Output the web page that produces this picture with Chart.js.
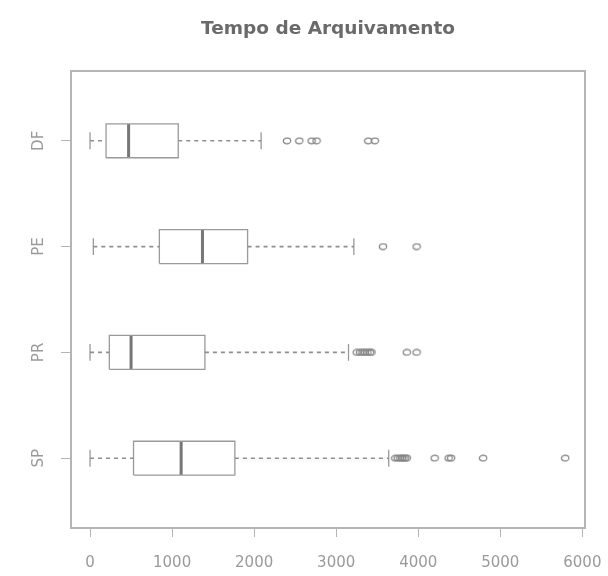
<!DOCTYPE html>
<html>
<head>
<meta charset="utf-8">
<title>Tempo de Arquivamento</title>
<script src="https://cdn.jsdelivr.net/npm/chart.js@4.4.1/dist/chart.umd.min.js"></script>
<style>
  html, body { margin: 0; padding: 0; background: #fff; }
  #wrap { width: 608px; height: 576px; }
</style>
</head>
<body>
<div id="wrap"><canvas id="chart"></canvas></div>
<script>
// Boxplot data, one entry per UF (listed bottom to top)
const groups = ['SP', 'PR', 'PE', 'DF'];
const whiskerLow = [0, 0, 40, 0];
const quartile1 = [530, 235, 845, 195];
const medians = [1110, 500, 1370, 470];
const quartile3 = [1765, 1400, 1920, 1075];
const whiskerHigh = [3640, 3150, 3215, 2085];
const outliers = [
  [3720, 3750, 3780, 3800, 3820, 3840, 3860, 4200, 4370, 4400, 4790, 5790],
  [3250, 3290, 3320, 3350, 3380, 3410, 3430, 3860, 3980],
  [3570, 3980],
  [2400, 2550, 2700, 2760, 3390, 3470],
];
const xTicks = [0, 1000, 2000, 3000, 4000, 5000, 6000];

const BOX_HALF = 0.16;
const STAPLE_HALF = 0.08;
const gap = { x: null, y: null };

const boxPts = [];
const medianPts = [];
const whiskerPts = [];
const staplePts = [];
const outlierPts = [];

groups.forEach((g, i) => {
  const y = i + 1;
  const lo = y - BOX_HALF, hi = y + BOX_HALF;
  boxPts.push(
    { x: quartile1[i], y: lo }, { x: quartile3[i], y: lo },
    { x: quartile3[i], y: hi }, { x: quartile1[i], y: hi },
    { x: quartile1[i], y: lo }, gap
  );
  medianPts.push({ x: medians[i], y: lo }, { x: medians[i], y: hi }, gap);
  whiskerPts.push(
    { x: whiskerLow[i], y: y }, { x: quartile1[i], y: y }, gap,
    { x: quartile3[i], y: y }, { x: whiskerHigh[i], y: y }, gap
  );
  staplePts.push(
    { x: whiskerLow[i], y: y - STAPLE_HALF }, { x: whiskerLow[i], y: y + STAPLE_HALF }, gap,
    { x: whiskerHigh[i], y: y - STAPLE_HALF }, { x: whiskerHigh[i], y: y + STAPLE_HALF }, gap
  );
  outliers[i].forEach(v => outlierPts.push({ x: v, y: y }));
});

// open ellipse used as the outlier marker
const ring = document.createElement('canvas');
ring.width = 10;
ring.height = 8;
(function () {
  const c = ring.getContext('2d');
  c.strokeStyle = '#858585';
  c.lineWidth = 1.2;
  c.beginPath();
  c.ellipse(5, 4, 3.7, 2.8, 0, 0, Math.PI * 2);
  c.stroke();
})();

const lineSet = (data, extra) => Object.assign({
  data: data,
  showLine: true,
  spanGaps: false,
  pointRadius: 0,
  borderColor: '#9a9a9a',
  borderWidth: 1.3,
  fill: false,
}, extra);

const frame = '#b5b5b5';
const tickFont = { family: 'DejaVu Sans', size: 15 };

new Chart(document.getElementById('chart'), {
  type: 'scatter',
  data: {
    datasets: [
      lineSet(whiskerPts, { borderDash: [4, 4], borderWidth: 1.6, borderColor: '#8f8f8f' }),
      lineSet(staplePts),
      lineSet(boxPts),
      lineSet(medianPts, { borderColor: '#777', borderWidth: 3 }),
      {
        data: outlierPts,
        pointStyle: ring,
        pointRadius: 4,
        showLine: false,
      },
    ],
  },
  options: {
    responsive: true,
    maintainAspectRatio: false,
    animation: false,
    events: [],
    layout: { padding: 0 },
    plugins: {
      legend: { display: false },
      tooltip: { enabled: false },
      title: { display: false },
    },
    scales: {
      x: {
        type: 'linear',
        position: 'bottom',
        min: -232,
        max: 6032,
        afterBuildTicks: (scale) => { scale.ticks = xTicks.map(v => ({ value: v })); },
        afterFit: (scale) => {
          scale.height = 48;
          // labels fit inside the side margins, no extra inset needed
          scale.paddingLeft = 0;
          scale.paddingRight = 0;
        },
        grid: { drawOnChartArea: false, drawTicks: true, tickLength: 9, tickColor: frame, tickWidth: 1 },
        border: { display: true, color: frame, width: 2 },
        ticks: {
          font: tickFont,
          color: '#9a9a9a',
          padding: 17,
          maxRotation: 0,
          autoSkip: false,
          callback: (v) => String(v),
        },
      },
      y: {
        type: 'linear',
        position: 'left',
        min: 0.34,
        max: 4.66,
        afterBuildTicks: (scale) => { scale.ticks = groups.map((g, i) => ({ value: i + 1 })); },
        afterFit: (scale) => { scale.width = 71; },
        grid: { drawOnChartArea: false, drawTicks: true, tickLength: 10, tickColor: frame, tickWidth: 1 },
        border: { display: true, color: frame, width: 2 },
        ticks: {
          font: tickFont,
          color: '#9a9a9a',
          padding: 12,
          minRotation: 90,
          maxRotation: 90,
          crossAlign: 'center',
          autoSkip: false,
          callback: (v) => groups[v - 1],
        },
      },
      top: {
        type: 'linear',
        position: 'top',
        afterFit: (scale) => { scale.height = 71; },
        grid: { display: false, drawTicks: false },
        border: { display: true, color: frame, width: 2 },
        ticks: { display: false },
        title: {
          display: true,
          text: 'Tempo de Arquivamento',
          color: '#6a6a6a',
          font: { family: 'DejaVu Sans', size: 18.5, weight: 'bold' },
          padding: { top: 18, bottom: 0 },
        },
      },
      right: {
        type: 'linear',
        position: 'right',
        afterFit: (scale) => { scale.width = 23; },
        grid: { display: false, drawTicks: false },
        border: { display: true, color: frame, width: 2 },
        ticks: { display: false },
      },
    },
  },
});
</script>
</body>
</html>
